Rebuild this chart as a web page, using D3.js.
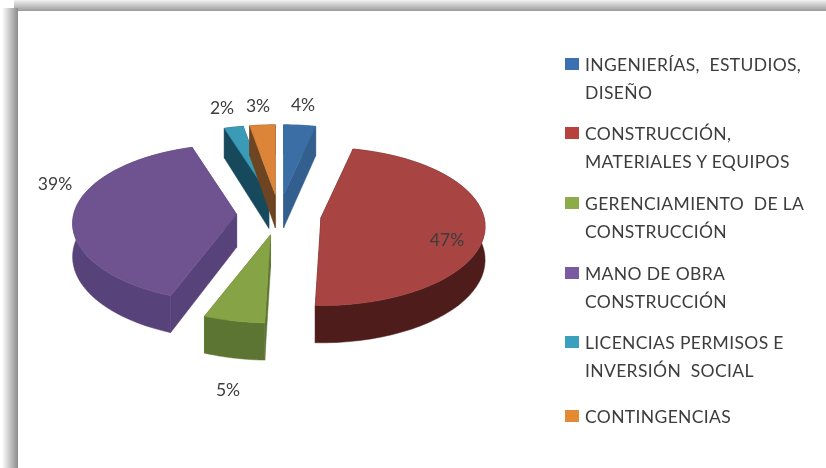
<!DOCTYPE html>
<html><head><meta charset="utf-8">
<script src="https://cdn.jsdelivr.net/npm/d3@7"></script>
<style>html,body{margin:0;padding:0;background:#fff}svg{display:block}text{font-family:Lato,"Open Sans",sans-serif;white-space:pre;fill:#3c3c3c}</style>
</head><body><svg id="c" width="826" height="468"></svg>
<script>
// Data (labels are the rounded percentages printed on the chart)
const categories = [["INGENIERÍAS,  ESTUDIOS,","DISEÑO"],["CONSTRUCCIÓN,","MATERIALES Y EQUIPOS"],["GERENCIAMIENTO  DE LA","CONSTRUCCIÓN"],["MANO DE OBRA","CONSTRUCCIÓN"],["LICENCIAS PERMISOS E","INVERSIÓN  SOCIAL"],["CONTINGENCIAS"]];
const values = [3.5, 47, 5.4, 39.2, 2.1, 2.8];
const valueLabels = ["4%","47%","5%","39%","2%","3%"];
// Styles
const topColors = ["#3a6ea5","#a84442","#86a345","#6e5290","#3a9ab6","#dc8438"];
const wallColors = ["#335f8e","#4f1e1c","#5c7430","#59427a","#164a5c","#6e4420"];
const legendColors = ["#3b6fb0","#b8403c","#8cab4a","#7a5aa0","#3aa0bb","#e48a35"];
const labelPos = [[303,105],[447,240],[228,390],[55,184],[222,108],[258,106]];
const legendY = [65,134,204,274,343,417];
const lineGap = 28;

const svg = d3.select("#c");
const defs = svg.append("defs");
defs.append("filter").attr("id","soft").append("feGaussianBlur").attr("stdDeviation",0.45);
const lg = defs.append("linearGradient").attr("id","fl");
lg.append("stop").attr("offset",0).attr("stop-color","#fff");
lg.append("stop").attr("offset",1).attr("stop-color","#8c8c8c");
const tg = defs.append("linearGradient").attr("id","ft").attr("x2",0).attr("y2",1);
tg.append("stop").attr("offset",0).attr("stop-color","#f2f2f2");
tg.append("stop").attr("offset",1).attr("stop-color","#9a9a9a");

svg.append("rect").attr("x",14).attr("y",0).attr("width",812).attr("height",11).attr("fill","url(#ft)");
svg.append("rect").attr("x",2).attr("y",8).attr("width",16).attr("height",460).attr("fill","url(#fl)");

const root = svg.append("g").attr("filter","url(#soft)");

// 3D projection of the pie plane
const cx=279, cy=215, rx=163, ry=78, k=0.114, explode=0.26, depth=33;
const proj=(u,v,ox,oy)=>{const w=1-k*v;return [cx+ox+rx*u/w, cy+oy+ry*v/w];};
const dz=(v)=>depth/(1-k*v);
const pie=d3.pie().sort(null).startAngle(0).endAngle(2*Math.PI).value(d=>d);
const arcs=pie(values);
const line=d3.line();
const order=[4,5,0,3,2,1];
order.forEach(i=>{
  const a=arcs[i], mid=(a.startAngle+a.endAngle)/2;
  const ox=explode*rx*Math.sin(mid), oy=-explode*ry*Math.cos(mid);
  const n=48, angles=d3.range(n+1).map(j=>a.startAngle+(a.endAngle-a.startAngle)*j/n);
  const rim=angles.map(t=>({p:proj(Math.sin(t),-Math.cos(t),ox,oy),d:dz(-Math.cos(t))}));
  const apex=proj(0,0,ox,oy), ad=dz(0);
  const g=root.append("g");
  const down=(e)=>[e.p[0],e.p[1]+e.d];
  const wall=pts=>g.append("path").attr("d",line(pts)+"Z").attr("fill",wallColors[i]).attr("stroke",wallColors[i]).attr("stroke-width",0.5);
  const first=rim[0], last=rim[n], ap=[apex[0],apex[1]+ad];
  wall([apex,first.p,down(first),ap]);
  wall([apex,last.p,down(last),ap]);
  wall(rim.map(e=>e.p).concat(rim.map(down).reverse()));
  g.append("path").attr("d",line([apex].concat(rim.map(e=>e.p)))+"Z").attr("fill",topColors[i]).attr("stroke",topColors[i]).attr("stroke-width",0.5);
});

// Value labels
root.selectAll("text.v").data(valueLabels).join("text").attr("class","v")
  .attr("x",(d,i)=>labelPos[i][0]).attr("y",(d,i)=>labelPos[i][1]+6)
  .attr("text-anchor","middle").attr("font-size",17.5).text(d=>d);

// Legend
categories.forEach((lines,i)=>{
  root.append("rect").attr("x",565).attr("y",legendY[i]-7).attr("width",14).attr("height",12).attr("fill",legendColors[i]);
  lines.forEach((t,j)=>root.append("text").attr("x",585).attr("y",legendY[i]+6+j*lineGap).attr("font-size",17.5).attr("letter-spacing",0.35).text(t));
});
</script></body></html>
